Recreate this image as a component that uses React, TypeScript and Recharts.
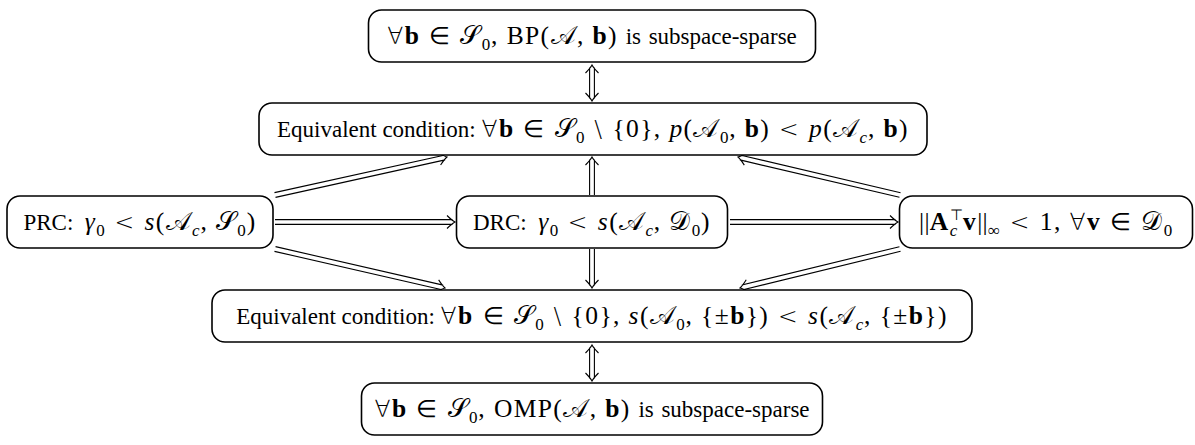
import React from 'react';
import { ScatterChart, Scatter, XAxis, YAxis, ReferenceLine } from 'recharts';

// Segment kinds: 'txt' = text font, 'm' = math upright, 'mi' = math italic, 'mb' = math bold,
// 'sym' = math symbol, 'sub' = subscript (upright), 'subi' = subscript italic, 'norm' = norm bars
type Seg = { t: string; k: string; sup?: string };

const S = '\u{1D4AE}';
const A = '\u{1D49C}';
const D = '\u{1D49F}';

// Nodes of the diagram (centres in diagram units)
const nodeIds = ['bp', 'eqp', 'prc', 'drc', 'dual', 'eqs', 'omp'];
const nodeX = [592, 593, 140, 592, 1046, 592, 592];
const nodeY = [36, 129, 222, 222, 222, 316, 409];

const REL = (r: string): Seg => ({ t: ' ' + r + ' ', k: 'sym' });
const ALL: Seg = { t: '\u2200', k: 'sym' };

const labels: Seg[][] = [
  [ALL, { t: 'b', k: 'mb' }, REL('\u2208'), { t: S, k: 'm' }, { t: '0', k: 'sub' }, { t: ', BP(', k: 'm' }, { t: A, k: 'm' }, { t: ', ', k: 'm' }, { t: 'b', k: 'mb' }, { t: ')', k: 'm' }, { t: '\u2004is\u2004subspace-sparse', k: 'txt' }],
  [{ t: 'Equivalent condition: ', k: 'txt' }, ALL, { t: 'b', k: 'mb' }, REL('\u2208'), { t: S, k: 'm' }, { t: '0', k: 'sub' }, REL('\\'), { t: '{0}, ', k: 'm' }, { t: 'p', k: 'mi' }, { t: '(', k: 'm' }, { t: A, k: 'm' }, { t: '0', k: 'sub' }, { t: ', ', k: 'm' }, { t: 'b', k: 'mb' }, { t: ')', k: 'm' }, REL('<'), { t: 'p', k: 'mi' }, { t: '(', k: 'm' }, { t: A, k: 'm' }, { t: 'c', k: 'subi' }, { t: ', ', k: 'm' }, { t: 'b', k: 'mb' }, { t: ')', k: 'm' }],
  [{ t: 'PRC:\u2002', k: 'txt' }, { t: '\u03B3', k: 'mi' }, { t: '0', k: 'sub' }, REL('<'), { t: 's', k: 'mi' }, { t: '(', k: 'm' }, { t: A, k: 'm' }, { t: 'c', k: 'subi' }, { t: ', ', k: 'm' }, { t: S, k: 'm' }, { t: '0', k: 'sub' }, { t: ')', k: 'm' }],
  [{ t: 'DRC:\u2002', k: 'txt' }, { t: '\u03B3', k: 'mi' }, { t: '0', k: 'sub' }, REL('<'), { t: 's', k: 'mi' }, { t: '(', k: 'm' }, { t: A, k: 'm' }, { t: 'c', k: 'subi' }, { t: ', ', k: 'm' }, { t: D, k: 'm' }, { t: '0', k: 'sub' }, { t: ')', k: 'm' }],
  [{ t: '||', k: 'norm' }, { t: 'A', k: 'mb' }, { t: 'c', k: 'subi', sup: '\u22A4' }, { t: 'v', k: 'mb' }, { t: '||', k: 'norm' }, { t: '\u221E', k: 'sub' }, REL('<'), { t: '1, ', k: 'm' }, ALL, { t: 'v', k: 'mb' }, REL('\u2208'), { t: D, k: 'm' }, { t: '0', k: 'sub' }],
  [{ t: 'Equivalent condition: ', k: 'txt' }, ALL, { t: 'b', k: 'mb' }, REL('\u2208'), { t: S, k: 'm' }, { t: '0', k: 'sub' }, REL('\\'), { t: '{0}, ', k: 'm' }, { t: 's', k: 'mi' }, { t: '(', k: 'm' }, { t: A, k: 'm' }, { t: '0', k: 'sub' }, { t: ', {\u00B1', k: 'm' }, { t: 'b', k: 'mb' }, { t: '})', k: 'm' }, REL('<'), { t: 's', k: 'mi' }, { t: '(', k: 'm' }, { t: A, k: 'm' }, { t: 'c', k: 'subi' }, { t: ', {\u00B1', k: 'm' }, { t: 'b', k: 'mb' }, { t: '})', k: 'm' }],
  [ALL, { t: 'b', k: 'mb' }, REL('\u2208'), { t: S, k: 'm' }, { t: '0', k: 'sub' }, { t: ', OMP(', k: 'm' }, { t: A, k: 'm' }, { t: ', ', k: 'm' }, { t: 'b', k: 'mb' }, { t: ')', k: 'm' }, { t: '\u2004is\u2004subspace-sparse', k: 'txt' }],
];

// Arrows (implications), endpoints in diagram units
const arrowFromX = [592, 592, 592, 592, 275, 730, 275, 900, 275, 900];
const arrowFromY = [65, 195, 249, 345, 222, 222, 195, 195, 249, 249];
const arrowToX = [592, 592, 592, 592, 455, 898, 447, 738, 445, 740];
const arrowToY = [101, 157, 288, 381, 222, 222, 157, 157, 288, 288];
const arrowBoth = [true, false, false, true, false, false, false, false, false, false];

// Styles
const BOX_W: Record<string, number> = { bp: 447, eqp: 668, prc: 266, drc: 271, dual: 293, eqs: 760, omp: 461 };
const BOX_H = 52;
const FONT = '"Liberation Serif", "Times New Roman", serif';
const SYM_FONT = '"DejaVu Sans", "Liberation Serif", serif';
const TXT_FS = 23;
const MATH_FS = 25.5;
const SUB_FS = 17;
const MATH_LS = 1.4;

const nodes = nodeIds.map((id, k) => ({ id, x: nodeX[k], y: nodeY[k], k }));

function segStyle(kind: string): any {
  switch (kind) {
    case 'txt':
      return { fontSize: TXT_FS, fontStyle: 'normal', fontWeight: 'normal', letterSpacing: 0 };
    case 'mi':
      return { fontSize: MATH_FS, fontStyle: 'italic', fontWeight: 'normal', letterSpacing: MATH_LS };
    case 'mb':
      return { fontSize: MATH_FS, fontStyle: 'normal', fontWeight: 'bold', letterSpacing: MATH_LS };
    case 'sym':
      return { fontSize: MATH_FS - 2, fontStyle: 'normal', fontWeight: 200, letterSpacing: MATH_LS, fontFamily: SYM_FONT };
    case 'sub':
      return { fontSize: SUB_FS, fontStyle: 'normal', fontWeight: 'normal', letterSpacing: 0.8 };
    case 'subi':
      return { fontSize: SUB_FS, fontStyle: 'italic', fontWeight: 'normal', letterSpacing: 0.8 };
    case 'norm':
      return { fontSize: MATH_FS, fontStyle: 'normal', fontWeight: 'normal', letterSpacing: 0.3 };
    default:
      return { fontSize: MATH_FS, fontStyle: 'normal', fontWeight: 'normal', letterSpacing: MATH_LS };
  }
}

function renderLabel(segs: Seg[]) {
  let cur = 0;
  const out: React.ReactNode[] = [];
  segs.forEach((s, j) => {
    const isSub = s.k === 'sub' || s.k === 'subi';
    const target = isSub ? 6 : 0;
    const dy = target - cur;
    cur = target;
    const st = segStyle(s.k);
    out.push(
      <tspan key={j + 'a'} dy={dy} fontStyle={st.fontStyle} fontWeight={st.fontWeight} fontSize={st.fontSize} letterSpacing={st.letterSpacing} fontFamily={st.fontFamily}>
        {s.t}
      </tspan>
    );
    if (s.sup) {
      const dy2 = -10 - cur;
      cur = -10;
      out.push(
        <tspan key={j + 'b'} dx={-8} dy={dy2} fontSize={SUB_FS - 2} fontStyle="normal" fontWeight="normal">
          {s.sup}
        </tspan>
      );
    }
  });
  return out;
}

function NodeShape(props: any) {
  const { cx, cy } = props;
  const p = props.payload || props;
  const w = BOX_W[p.id];
  return (
    <g>
      <rect x={cx - w / 2} y={cy - BOX_H / 2} width={w} height={BOX_H} rx={13} ry={13} fill="#fff" stroke="#000" strokeWidth={1.6} />
      <text x={cx} y={cy + 7.5} textAnchor="middle" fontFamily={FONT} fontSize={TXT_FS} fill="#000" style={{ whiteSpace: 'pre' }}>
        {renderLabel(labels[p.k])}
      </text>
    </g>
  );
}

function DoubleArrow(props: any) {
  const { x1, y1, x2, y2, both } = props;
  const dx = x2 - x1;
  const dy = y2 - y1;
  const L = Math.hypot(dx, dy) || 1;
  const ux = dx / L;
  const uy = dy / L;
  const nx = -uy;
  const ny = ux;
  const g = 2.4;
  const back = 2.5;
  const s0 = both ? back : 0;
  const s1 = L - back;
  const pt = (bx: number, by: number, a: number, b: number) => `${bx + ux * a + nx * b},${by + uy * a + ny * b}`;
  const head = (tx: number, ty: number, dir: number) => {
    const P = (a: number, b: number) => pt(tx, ty, dir * a, b);
    return `M${P(-8, 6.5)} Q${P(-3, 1.6)} ${P(0, 0)} Q${P(-3, -1.6)} ${P(-8, -6.5)}`;
  };
  const lineD = [g, -g]
    .map((o) => `M${pt(x1, y1, s0, o)} L${pt(x1, y1, s1, o)}`)
    .join(' ');
  let d = lineD + ' ' + head(x2, y2, 1);
  if (both) d += ' ' + head(x1, y1, -1);
  return <path d={d} fill="none" stroke="#000" strokeWidth={1.1} />;
}

export default function App() {
  return (
    <div style={{ position: 'absolute', left: 0, top: 0, width: 1195, height: 445, background: '#fff' }}>
      <ScatterChart width={1195} height={445} margin={{ top: 0, right: 0, bottom: 0, left: 0 }}>
        <XAxis type="number" dataKey="x" domain={[0, 1195]} hide allowDataOverflow />
        <YAxis type="number" dataKey="y" domain={[0, 445]} reversed hide allowDataOverflow />
        {arrowFromX.map((_, k) => (
          <ReferenceLine
            key={'a' + k}
            segment={[
              { x: arrowFromX[k], y: arrowFromY[k] },
              { x: arrowToX[k], y: arrowToY[k] },
            ]}
            ifOverflow="visible"
            shape={(p: any) => <DoubleArrow {...p} both={arrowBoth[k]} />}
          />
        ))}
        <Scatter data={nodes} isAnimationActive={false} shape={(p: any) => <NodeShape {...p} />} />
      </ScatterChart>
    </div>
  );
}
